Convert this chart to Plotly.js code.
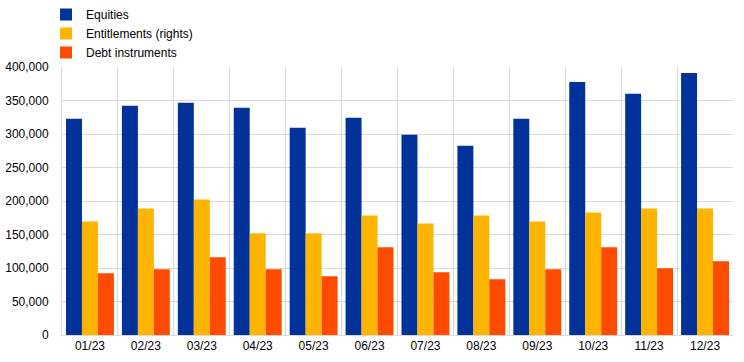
<!DOCTYPE html>
<html>
<head>
<meta charset="utf-8">
<script src="https://cdn.plot.ly/plotly-3.0.1.min.js"></script>
<style>html,body{margin:0;padding:0;background:#fff;}#chart{width:744px;height:362px;}</style>
</head>
<body>
<div id="chart"></div>
<script>
const months = ["01/23","02/23","03/23","04/23","05/23","06/23","07/23","08/23","09/23","10/23","11/23","12/23"];
const equities = [322700, 342000, 346500, 339000, 309300, 324200, 298900, 282500, 322700, 377700, 359900, 391100];
const entitlements = [169500, 188900, 202200, 151700, 151700, 178500, 166600, 178500, 169500, 182900, 188900, 188900];
const debt = [92200, 98100, 116000, 98100, 87700, 130900, 93700, 83300, 98100, 130900, 99600, 110000];

const traces = [
  {type:"bar", name:"Equities", x:months, y:equities, marker:{color:"#003299"}},
  {type:"bar", name:"Entitlements (rights)", x:months, y:entitlements, marker:{color:"#FFB400"}},
  {type:"bar", name:"Debt instruments", x:months, y:debt, marker:{color:"#FF4B00"}}
];
const layout = {
  width:744, height:362,
  margin:{l:62, r:11, t:66, b:27},
  paper_bgcolor:"#fff", plot_bgcolor:"#fff",
  font:{family:"Liberation Sans, Arial, sans-serif", size:12, color:"#000"},
  barmode:"group", bargap:0.143, bargroupgap:0,
  showlegend:true,
  legend:{xref:"paper", yref:"container", x:-0.0238, xanchor:"left", y:1, yanchor:"top", orientation:"v",
    font:{size:12, color:"#000"}, bgcolor:"rgba(0,0,0,0)", traceorder:"normal"},
  xaxis:{type:"category", tickson:"boundaries", showgrid:true, gridcolor:"#d9d9d9", gridwidth:1,
    showline:true, linecolor:"#d9d9d9", ticks:"", tickfont:{size:12, color:"#000"}},
  yaxis:{range:[0,400000], dtick:50000, tickformat:",", showgrid:true, gridcolor:"#d9d9d9",
    showline:true, linecolor:"#d9d9d9", zeroline:false, ticks:"", ticklabelstandoff:10,
    tickfont:{size:12, color:"#000"}}
};
Plotly.newPlot("chart", traces, layout, {staticPlot:true, displayModeBar:false});
</script>
</body>
</html>
